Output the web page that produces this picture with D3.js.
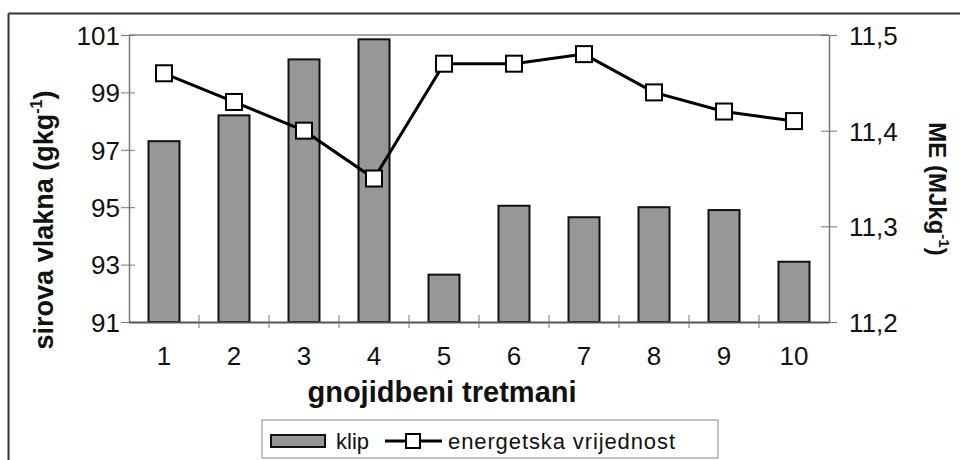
<!DOCTYPE html>
<html><head><meta charset="utf-8">
<script src="https://cdn.jsdelivr.net/npm/d3@7"></script>
<style>body{margin:0;background:#fff}svg{display:block}text{font-family:"Liberation Sans",Arial,sans-serif}</style>
</head><body>
<svg id="c" width="960" height="460"></svg>
<script>
const categories = ["1","2","3","4","5","6","7","8","9","10"];
const klip = [97.3, 98.2, 100.15, 100.85, 92.65, 95.05, 94.65, 95.0, 94.9, 93.1];
const energija = [11.46, 11.43, 11.40, 11.35, 11.47, 11.47, 11.48, 11.44, 11.42, 11.41];
const leftTicks = [91, 93, 95, 97, 99, 101];
const rightTicks = [11.2, 11.3, 11.4, 11.5];

const svg = d3.select("#c");
const m = {l:129, r:829, t:35, b:322};
const xb = d3.scaleBand().domain(categories).range([m.l, m.r]);
const yL = d3.scaleLinear().domain([91, 101]).range([m.b, m.t]);
const yR = d3.scaleLinear().domain([11.2, 11.5]).range([m.b, m.t]);
const FF = "Liberation Sans, Arial";

// outer frame (top & left)
svg.append("line").attr("x1",8.5).attr("x2",960).attr("y1",13.5).attr("y2",13.5).attr("stroke","#333").attr("stroke-width",2);
svg.append("line").attr("x1",8.5).attr("x2",8.5).attr("y1",13.5).attr("y2",460).attr("stroke","#333").attr("stroke-width",2);

// plot top border
svg.append("line").attr("x1",m.l).attr("x2",m.r).attr("y1",m.t).attr("y2",m.t).attr("stroke","#888").attr("stroke-width",1.5);

// bars
svg.selectAll("rect.bar").data(klip).join("rect").attr("class","bar")
  .attr("x",(d,i)=>xb(categories[i]) + xb.bandwidth()/2 - 15.5)
  .attr("width",31)
  .attr("y",d=>yL(d)).attr("height",d=>yL(91)-yL(d))
  .attr("fill","#979797").attr("stroke","#111").attr("stroke-width",2);

// left axis
const gL = svg.append("g").attr("transform",`translate(${m.l},0)`)
  .call(d3.axisLeft(yL).tickValues(leftTicks).tickSize(0).tickPadding(9));
gL.select(".domain").attr("stroke","#777").attr("stroke-width",1.5);
gL.selectAll(".tick line").attr("x1",-8).attr("x2",6).attr("stroke","#777");
gL.selectAll(".tick text").attr("font-size",26).attr("fill","#111").attr("dy","0.36em").style("font-family",FF);

// right axis
const gR = svg.append("g").attr("transform",`translate(${m.r},0)`)
  .call(d3.axisRight(yR).tickValues(rightTicks).tickSize(0).tickPadding(20).tickFormat(d=>d3.format(".1f")(d).replace(".",",")));
gR.select(".domain").attr("stroke","#777").attr("stroke-width",1.5);
gR.selectAll(".tick line").attr("x1",-8).attr("x2",8).attr("stroke","#777");
gR.selectAll(".tick text").attr("font-size",26).attr("fill","#111").attr("dy","0.36em").style("font-family",FF);

// bottom axis
const gB = svg.append("g").attr("transform",`translate(0,${m.b})`)
  .call(d3.axisBottom(xb).tickSize(0).tickPadding(25));
gB.select(".domain").attr("stroke","#555").attr("stroke-width",2);
gB.selectAll(".tick text").attr("font-size",26).attr("fill","#111").style("font-family",FF);
svg.append("g").selectAll("line").data(categories.slice(1)).join("line")
  .attr("x1",d=>xb(d)).attr("x2",d=>xb(d)).attr("y1",m.b-7).attr("y2",m.b+6).attr("stroke","#777");

// line
const line = d3.line().x((d,i)=>xb(categories[i])+xb.bandwidth()/2).y(d=>yR(d));
svg.append("path").datum(energija).attr("d",line).attr("fill","none").attr("stroke","#000").attr("stroke-width",3);
svg.selectAll("rect.mk").data(energija).join("rect").attr("class","mk")
  .attr("x",(d,i)=>xb(categories[i])+xb.bandwidth()/2-8).attr("y",d=>yR(d)-8)
  .attr("width",16).attr("height",16).attr("fill","#fff").attr("stroke","#000").attr("stroke-width",2);

// axis titles
svg.append("text").attr("x",442).attr("y",402).attr("text-anchor","middle")
  .attr("font-size",29).attr("font-weight","bold").attr("fill","#111").text("gnojidbeni tretmani");
const tl = svg.append("text").attr("transform","translate(53,220) rotate(-90)").attr("text-anchor","middle")
  .attr("font-size",27).attr("font-weight","bold").attr("fill","#111");
tl.append("tspan").text("sirova vlakna (gkg");
tl.append("tspan").attr("dy",-11).attr("font-size",16).text("-1");
tl.append("tspan").attr("dy",11).text(")");
const tr = svg.append("text").attr("transform","translate(929,189) rotate(90)").attr("text-anchor","middle")
  .attr("font-size",24).attr("font-weight","bold").attr("fill","#111");
tr.append("tspan").text("ME (MJkg");
tr.append("tspan").attr("dy",-10).attr("font-size",15).text("-1");
tr.append("tspan").attr("dy",10).text(")");

// legend
const lg = svg.append("g");
lg.append("rect").attr("x",262).attr("y",420).attr("width",456).attr("height",38).attr("fill","#fff").attr("stroke","#888").attr("stroke-width",1);
lg.append("rect").attr("x",271).attr("y",435).attr("width",54).attr("height",12).attr("fill","#979797").attr("stroke","#111").attr("stroke-width",2);
lg.append("text").attr("x",336).attr("y",449).attr("font-size",22).attr("fill","#111").text("klip");
lg.append("line").attr("x1",385).attr("x2",442).attr("y1",441).attr("y2",441).attr("stroke","#000").attr("stroke-width",3);
lg.append("rect").attr("x",406).attr("y",434).attr("width",14).attr("height",14).attr("fill","#fff").attr("stroke","#000").attr("stroke-width",2);
lg.append("text").attr("x",448).attr("y",449).attr("font-size",22).attr("fill","#111").attr("textLength",227).text("energetska vrijednost");
</script>
</body></html>
